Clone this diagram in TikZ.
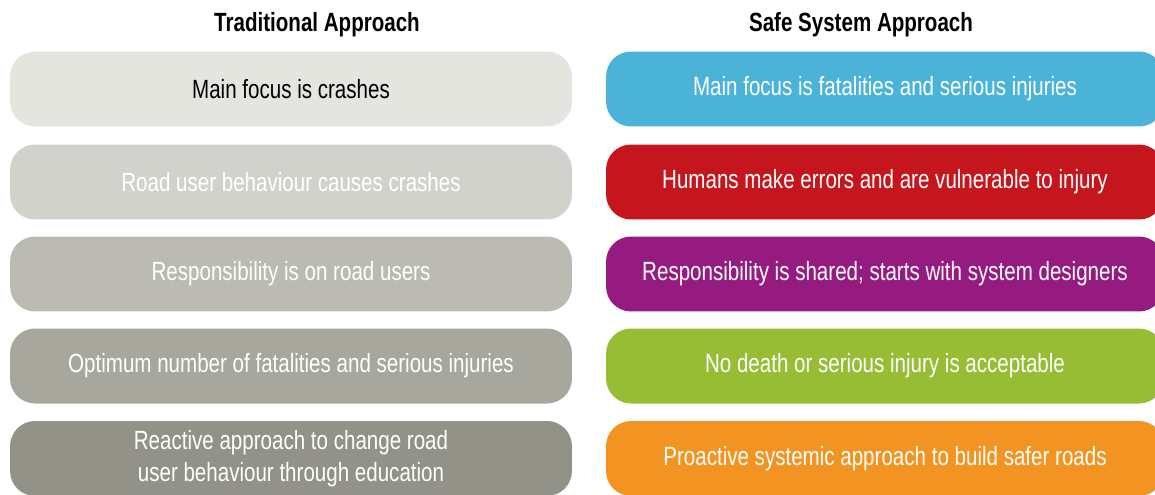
\documentclass[tikz,border=0pt]{standalone}
\usepackage{fontspec}
\setmainfont{Liberation Sans}[FakeStretch=0.78]

\definecolor{tradA}{HTML}{E5E5E0}
\definecolor{tradB}{HTML}{D2D2CC}
\definecolor{tradC}{HTML}{BBBBB3}
\definecolor{tradD}{HTML}{A7A79E}
\definecolor{tradE}{HTML}{929288}
\definecolor{safeA}{HTML}{4BB2D8}
\definecolor{safeB}{HTML}{C4161C}
\definecolor{safeC}{HTML}{951B81}
\definecolor{safeD}{HTML}{97BD35}
\definecolor{safeE}{HTML}{F39422}

\tikzset{
  rowbox/.style={rounded corners=0.5cm, minimum height=1.5cm, text=white,
    font=\fontsize{15}{18.2}\selectfont, align=center, inner sep=0pt},
  tradbox/.style={rowbox, minimum width=11.24cm},
  safebox/.style={rowbox, minimum width=11.16cm},
  heading/.style={font=\bfseries\fontsize{15}{17}\selectfont}
}

\begin{document}
\begin{tikzpicture}[x={(0.02cm,0)}, y={(0,-0.02cm)}]
    \useasboundingbox (0,0) rectangle (1155,494);

    \node[heading] (trad) at (317,25) {Traditional Approach};
    \node[heading] (safe) at (861,25) {Safe System Approach};

    % left column
    \node[tradbox, fill=tradA, text=black] (t1) at (291,89) {Main focus is crashes};
    \node[tradbox, fill=tradB] (t2) at (291,182) {Road user behaviour causes crashes};
    \node[tradbox, fill=tradC] (t3) at (291,274) {Responsibility is on road users};
    \node[tradbox, fill=tradD] (t4) at (291,366) {Optimum number of fatalities and serious injuries};
    \node[tradbox, fill=tradE] (t5) at (291,458.5) {Reactive approach to change road\\user behaviour through education};

    % right column
    \node[safebox, fill=safeA] (s1) at (885,89) {Main focus is fatalities and serious injuries};
    \node[safebox, fill=safeB] (s2) at (885,182) {Humans make errors and are vulnerable to injury};
    \node[safebox, fill=safeC] (s3) at (885,274) {Responsibility is shared; starts with system designers};
    \node[safebox, fill=safeD] (s4) at (885,366) {No death or serious injury is acceptable};
    \node[safebox, fill=safeE] (s5) at (885,458.5) {Proactive systemic approach to build safer roads};
\end{tikzpicture}
\end{document}
